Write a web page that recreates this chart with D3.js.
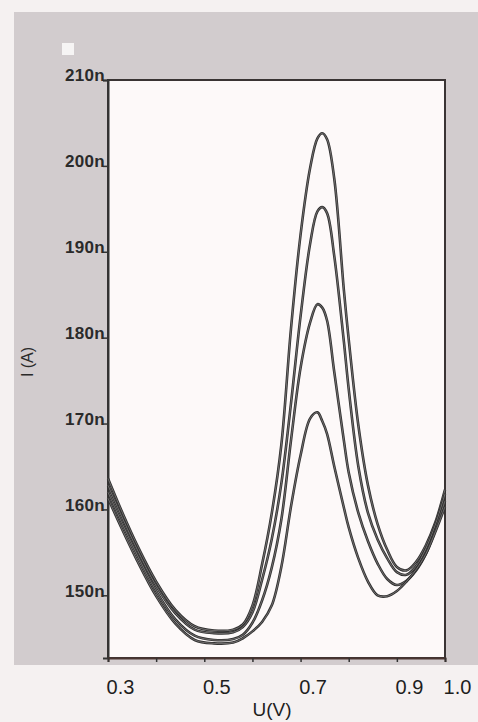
<!DOCTYPE html>
<html>
<head>
<meta charset="utf-8">
<script src="https://cdnjs.cloudflare.com/ajax/libs/d3/7.8.5/d3.min.js"></script>
<style>
  body { margin: 0; background: #f5f1f1; }
  svg { display: block; }
</style>
</head>
<body>
<div id="chart"></div>
<script>
// potential (V), shared by all four scans
var U = [0.30, 0.33, 0.36, 0.40, 0.44, 0.48, 0.52, 0.56, 0.58, 0.60, 0.62, 0.64, 0.66, 0.68, 0.70, 0.72,
         0.735, 0.745, 0.755, 0.77, 0.79, 0.80, 0.82, 0.84, 0.86, 0.88, 0.90, 0.92, 0.94, 0.96, 0.98, 1.00];

// current (nA)
var scanA = [163.6, 159.6, 155.9, 151.6, 148.3, 146.4, 145.9, 146.0, 146.6, 148.8, 153.6, 159.5, 167.5, 181.0, 192.0, 199.8,
             203.2, 203.8, 203.1, 198.5, 185.5, 179.8, 169.8, 162.8, 158.3, 155.3, 153.3, 152.9, 153.9, 155.8, 158.5, 162.3];
var scanB = [162.8, 159.0, 155.4, 151.1, 147.9, 146.0, 145.6, 145.7, 146.3, 148.0, 151.8, 156.5, 163.0, 172.3, 182.5, 191.0,
             194.7, 195.2, 194.5, 189.5, 179.5, 174.0, 165.0, 159.6, 156.5, 154.3, 152.7, 152.4, 153.4, 155.4, 158.2, 161.8];
var scanC = [162.0, 158.3, 154.8, 150.5, 147.2, 145.3, 144.8, 144.9, 145.4, 146.8, 149.4, 153.2, 158.8, 168.0, 176.5, 181.8,
             183.9, 183.5, 182.0, 176.0, 168.0, 164.3, 159.6, 156.3, 153.7, 151.9, 151.2, 151.7, 152.9, 154.8, 157.6, 161.0];
var scanD = [161.3, 157.6, 154.1, 149.9, 146.7, 144.8, 144.4, 144.5, 145.0, 145.8, 146.9, 148.8, 153.3, 160.3, 166.3, 170.6,
             171.3, 170.3, 168.8, 165.0, 160.2, 157.9, 154.3, 151.6, 150.0, 149.9, 150.5, 151.6, 153.0, 154.8, 157.4, 160.3];

var yTicks = [150, 160, 170, 180, 190, 200, 210];
var xTicks = [0.3, 0.4, 0.5, 0.6, 0.7, 0.8, 0.9, 1.0];
var xLabels = [0.3, 0.5, 0.7, 0.9, 1.0];

var W = 478, H = 722;
var margin = {left: 108, right: 445, top: 80, bottom: 658};
var font = "'Liberation Sans', Arial, sans-serif";

var svg = d3.select("#chart").append("svg")
    .attr("width", W)
    .attr("height", H);

// scanned page backdrop
svg.append("rect")
    .attr("x", 14).attr("y", 12)
    .attr("width", W - 14).attr("height", 653)
    .attr("fill", "#d2ccce");
svg.append("rect")
    .attr("x", 62).attr("y", 43)
    .attr("width", 12).attr("height", 12)
    .attr("fill", "#f6f4f4");

var x = d3.scaleLinear().domain([0.3, 1.0]).range([margin.left, margin.right]);
var y = d3.scaleLinear().domain([142.7, 210]).range([margin.bottom, margin.top]);

svg.append("rect")
    .attr("x", margin.left).attr("y", margin.top)
    .attr("width", margin.right - margin.left).attr("height", margin.bottom - margin.top)
    .attr("fill", "#fdf9f9")
    .attr("stroke", "#3a3434")
    .attr("stroke-width", 2);

// y axis
var yAxis = d3.axisLeft(y)
    .tickValues(yTicks)
    .tickFormat(function(d) { return d + "n"; })
    .tickSize(5);
var gy = svg.append("g")
    .attr("transform", "translate(" + margin.left + ",0)")
    .call(yAxis);
gy.select(".domain").attr("stroke", "#333").attr("stroke-width", 2);
gy.selectAll(".tick line").attr("stroke", "#333").attr("stroke-width", 1.5);
gy.selectAll(".tick text")
    .attr("x", -3)
    .attr("dy", "0.05em")
    .attr("fill", "#2a2a2a")
    .style("font-family", font)
    .style("font-weight", "bold")
    .style("font-size", "17px")
    .style("letter-spacing", "0.3px");

// x axis
var xAxis = d3.axisBottom(x)
    .tickValues(xTicks)
    .tickFormat(function(d) { return xLabels.indexOf(d) >= 0 ? d.toFixed(1) : ""; })
    .tickSize(4);
var gx = svg.append("g")
    .attr("transform", "translate(0," + margin.bottom + ")")
    .call(xAxis);
gx.select(".domain").attr("stroke", "#4a3530").attr("stroke-width", 2);
gx.selectAll(".tick line").attr("stroke", "#333").attr("stroke-width", 1.5);
gx.selectAll(".tick text")
    .attr("y", 36)
    .attr("dy", 0)
    .attr("dx", 12)
    .attr("fill", "#1e1e1e")
    .style("font-family", font)
    .style("font-size", "20px");

svg.append("text")
    .attr("x", 272).attr("y", 716)
    .attr("text-anchor", "middle")
    .attr("fill", "#1e1e1e")
    .style("font-family", font)
    .style("font-size", "19px")
    .text("U(V)");

svg.append("text")
    .attr("transform", "translate(33,362) rotate(-90)")
    .attr("text-anchor", "middle")
    .attr("fill", "#2a2a2a")
    .style("font-family", font)
    .style("font-size", "16px")
    .text("I (A)");

// the four voltammograms
var line = d3.line()
    .x(function(d, i) { return x(U[i]); })
    .y(function(d) { return y(d); })
    .curve(d3.curveCatmullRom);

[scanA, scanB, scanC, scanD].forEach(function(s) {
  svg.append("path")
      .datum(s)
      .attr("d", line)
      .attr("fill", "none")
      .attr("stroke", "#2f2f2f")
      .attr("stroke-width", 2.6);
  svg.append("path")
      .datum(s)
      .attr("d", line)
      .attr("fill", "none")
      .attr("stroke", "#8e8a8a")
      .attr("stroke-width", 0.7);
});
</script>
</body>
</html>
